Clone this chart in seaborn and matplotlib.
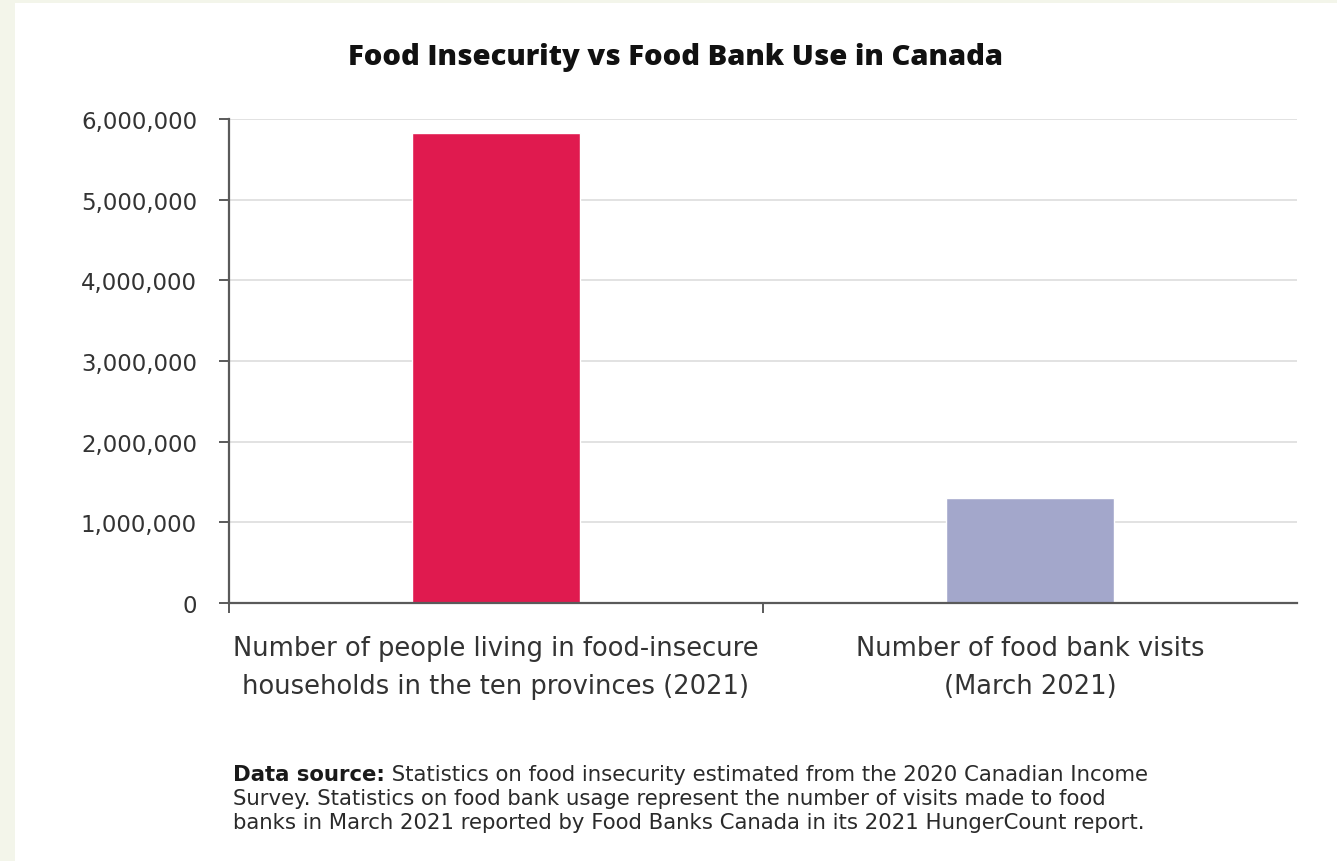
import matplotlib
matplotlib.use("Agg")
import matplotlib.pyplot as plt
import matplotlib.patches as mpatches
from matplotlib.ticker import FuncFormatter, FixedLocator
import seaborn as sns
import pandas as pd

categories = [
    "Number of people living in food-insecure\nhouseholds in the ten provinces (2021)",
    "Number of food bank visits\n(March 2021)",
]
values = [5830000, 1300000]
bar_colors = ["#e01a4f", "#a3a7cb"]
y_ticks = [0, 1000000, 2000000, 3000000, 4000000, 5000000, 6000000]
title = "Food Insecurity vs Food Bank Use in Canada"
source_bold = "Data source:"
source_lines = [
    " Statistics on food insecurity estimated from the 2020 Canadian Income",
    "Survey. Statistics on food bank usage represent the number of visits made to food",
    "banks in March 2021 reported by Food Banks Canada in its 2021 HungerCount report.",
]

sns.set_theme(style="white")
plt.rcParams["font.family"] = ["DejaVu Sans"]

W, H = 1337, 862
fig = plt.figure(figsize=(W / 100, H / 100), dpi=100)
fig.patch.set_facecolor("#f3f5ea")
fig.patches.append(mpatches.Rectangle((15 / W, 0), 1 - 15 / W, 1 - 4 / H,
                                      transform=fig.transFigure, facecolor="white",
                                      edgecolor="none", zorder=-5))

ax = fig.add_axes([229 / W, (H - 604) / H, (1297 - 229) / W, (604 - 120) / H])
ax.set_zorder(2)
ax.set_facecolor("white")

df = pd.DataFrame({"cat": categories, "val": values})
sns.barplot(data=df, x="cat", y="val", hue="cat", palette=bar_colors,
            width=0.313, legend=False, ax=ax, zorder=3, saturation=1)

ax.set_xlim(-0.5, 1.5)
ax.set_ylim(0, 6000000)
ax.set_yticks(y_ticks)
ax.yaxis.set_major_formatter(FuncFormatter(lambda v, p: f"{int(v):,}"))
ax.grid(axis="y", color="#dadada", linewidth=1.1, zorder=0)
ax.set_axisbelow(True)

for s in ["top", "right"]:
    ax.spines[s].set_visible(False)
for s in ["left", "bottom"]:
    ax.spines[s].set_color("#5a5a5a")
    ax.spines[s].set_linewidth(1.6)
    ax.spines[s].set_zorder(4)

ax.tick_params(axis="y", which="major", direction="out", length=7, width=1.4,
               color="#5a5a5a", pad=16, labelsize=16.5, labelcolor="#333333", left=True)
ax.tick_params(axis="x", which="major", length=0, pad=23, labelsize=18.5,
               labelcolor="#333333", bottom=True)
ax.xaxis.set_minor_locator(FixedLocator([-0.5, 0.5]))
ax.tick_params(axis="x", which="minor", direction="out", length=7, width=1.4,
               color="#5a5a5a", bottom=True)
for lab in ax.get_xticklabels():
    lab.set_linespacing(1.6)
ax.set_xlabel("")
ax.set_ylabel("")

fig.text(676 / W, 1 - 57 / H, title, ha="center", va="center",
         fontsize=21, fontweight="black", color="#111111",
         family=["Open Sans", "DejaVu Sans"])

# data source footnote
fs = 15.3
y0 = 1 - 775 / H
t = fig.text(233 / W, y0, source_bold, ha="left", va="center", fontsize=fs,
             fontweight="bold", color="#1a1a1a")
fig.canvas.draw()
bb = t.get_window_extent()
fig.text(bb.x1 / W, y0, source_lines[0], ha="left", va="center", fontsize=fs,
         color="#2a2a2a")
fig.text(233 / W, 1 - 799 / H, source_lines[1], ha="left", va="center", fontsize=fs,
         color="#2a2a2a")
fig.text(233 / W, 1 - 823 / H, source_lines[2], ha="left", va="center", fontsize=fs,
         color="#2a2a2a")

fig.savefig("out.png", dpi=100, facecolor=fig.get_facecolor())
